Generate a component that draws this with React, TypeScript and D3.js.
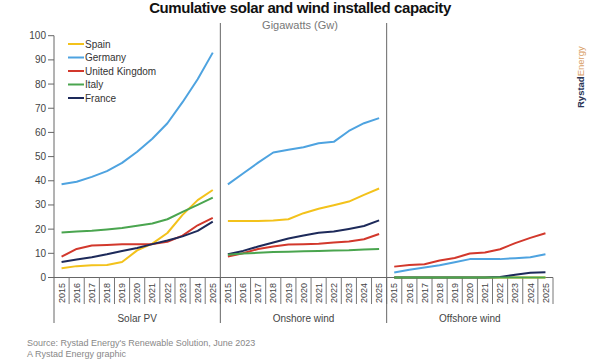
import * as d3 from "d3";

const years = ["2015", "2016", "2017", "2018", "2019", "2020", "2021", "2022", "2023", "2024", "2025"];
const groups = ["Solar PV", "Onshore wind", "Offshore wind"];
const countries = ["Spain", "Germany", "United Kingdom", "Italy", "France"];
const colors = ["#f3c21b", "#4ea3e0", "#d2382c", "#4aa54f", "#1d2a5a"];
const yTicks = [0, 10, 20, 30, 40, 50, 60, 70, 80, 90, 100];

// values per country, per group (11 years each)
const spain = [
  [3.8, 4.7, 5.1, 5.2, 6.4, 11.2, 14, 18.4, 25.9, 32, 36.2],
  [23.4, 23.4, 23.4, 23.6, 24.1, 26.6, 28.4, 29.9, 31.4, 34.2, 36.8],
  [0, 0, 0, 0, 0, 0, 0, 0, 0, 0, 0],
];
const germany = [
  [38.6, 39.6, 41.6, 44, 47.4, 52, 57.4, 63.8, 72.5, 82, 93],
  [38.5, 43, 47.5, 51.7, 52.8, 53.9, 55.5, 56.1, 60.6, 63.8, 65.9],
  [2.1, 3.2, 4.1, 5.1, 6.3, 7.6, 7.6, 7.6, 8, 8.4, 9.6],
];
const uk = [
  [8.6, 11.8, 13.2, 13.4, 13.7, 13.8, 13.8, 14.8, 17.3, 21.6, 24.7],
  [8.7, 10, 11.8, 12.8, 13.6, 13.8, 14, 14.5, 14.9, 15.8, 18],
  [4.5, 5.2, 5.5, 7, 8.1, 9.9, 10.3, 11.7, 14.2, 16.4, 18.3],
];
const italy = [
  [18.6, 19, 19.3, 19.9, 20.5, 21.4, 22.3, 24.1, 27.1, 30, 33],
  [9.4, 9.9, 10.2, 10.5, 10.7, 10.9, 11, 11.2, 11.3, 11.6, 11.8],
  [0, 0, 0, 0, 0, 0, 0, 0, 0, 0, 0],
];
const france = [
  [6.4, 7.4, 8.4, 9.6, 11, 12.2, 13.8, 15.3, 17, 19.3, 23.1],
  [9.6, 11, 12.8, 14.5, 16.1, 17.4, 18.5, 19, 20.1, 21.3, 23.6],
  [0, 0, 0, 0, 0, 0, 0, 0.2, 1.1, 2, 2.2],
];
const seriesData = [spain, germany, uk, italy, france];
const drawOrder = [0, 1, 2, 4, 3];

const W = 600;
const H = 360;
const left = 54;
const right = 553;
const top = 35.7;
const base = 277.5;
const font = "'Liberation Sans', Arial, sans-serif";

export default function App() {
  const groupScale = d3.scaleBand<string>().domain(groups).range([left, right]);
  const yearScale = d3.scaleBand<string>().domain(years).range([0, groupScale.bandwidth()]);
  const y = d3.scaleLinear().domain([0, 100]).range([base, top]);
  const line = (g: string) =>
    d3
      .line<number>()
      .x((_, i) => groupScale(g)! + yearScale(years[i])! + yearScale.bandwidth() / 2)
      .y((d) => y(d));

  return (
    <svg width={W} height={H} style={{ position: "absolute", left: 0, top: 0, background: "#fff" }} fontFamily={font}>
      <text x={300} y={13} textAnchor="middle" fontSize={15} fontWeight="bold" fill="#111" letterSpacing={-0.4}>
        Cumulative solar and wind installed capacity
      </text>
      <text x={300} y={28.5} textAnchor="middle" fontSize={11} fill="#777">
        Gigawatts (Gw)
      </text>

      {/* y axis */}
      <line x1={left} x2={left} y1={top} y2={323} stroke="#666" strokeWidth={1} />
      {yTicks.map((t) => (
        <g key={t}>
          <line x1={left - 6} x2={left} y1={y(t)} y2={y(t)} stroke="#666" />
          <text x={left - 8} y={y(t) + 3.5} textAnchor="end" fontSize={10} fill="#444">
            {t}
          </text>
        </g>
      ))}
      <line x1={left} x2={right} y1={base} y2={base} stroke="#666" />

      {/* panels */}
      {groups.map((g, gi) => (
        <g key={g}>
          {gi > 0 && (
            <line x1={groupScale(g)!} x2={groupScale(g)!} y1={23} y2={323} stroke="#666" />
          )}
          {years.map((yr) => {
            const x0 = groupScale(g)! + yearScale(yr)!;
            const xc = x0 + yearScale.bandwidth() / 2;
            return (
              <g key={yr}>
                <line x1={x0 + yearScale.bandwidth()} x2={x0 + yearScale.bandwidth()} y1={base} y2={304} stroke="#777" />
                <text
                  transform={`translate(${xc + 3.2},${293}) rotate(-90)`}
                  textAnchor="middle"
                  fontSize={9}
                  fill="#444"
                >
                  {yr}
                </text>
              </g>
            );
          })}
          <text x={groupScale(g)! + groupScale.bandwidth() / 2} y={321.5} textAnchor="middle" fontSize={10} fill="#444">
            {g}
          </text>
        </g>
      ))}

      {/* lines */}
      {groups.map((g, gi) =>
        drawOrder.map((ci) => (
          <path
            key={g + ci}
            d={line(g)(seriesData[ci][gi]) ?? undefined}
            fill="none"
            stroke={colors[ci]}
            strokeWidth={2}
            strokeLinejoin="round"
          />
        ))
      )}

      {/* legend */}
      {countries.map((c, i) => (
        <g key={c} transform={`translate(68,${44 + i * 13.5})`}>
          <line x1={0} x2={16} y1={0} y2={0} stroke={colors[i]} strokeWidth={2} />
          <text x={17} y={3.5} fontSize={10} fill="#333">
            {c}
          </text>
        </g>
      ))}

      {/* footer */}
      <text x={27} y={346} fontSize={9} fill="#888">
        Source: Rystad Energy's Renewable Solution, June 2023
      </text>
      <text x={27} y={356.5} fontSize={9} fill="#888">
        A Rystad Energy graphic
      </text>

      {/* logo */}
      <text transform="translate(584,108) rotate(-90)" fontSize={9.5} fontWeight="bold" fill="#2b3556">
        Rystad<tspan fontWeight="normal" fill="#d9a066">Energy</tspan>
      </text>
    </svg>
  );
}
